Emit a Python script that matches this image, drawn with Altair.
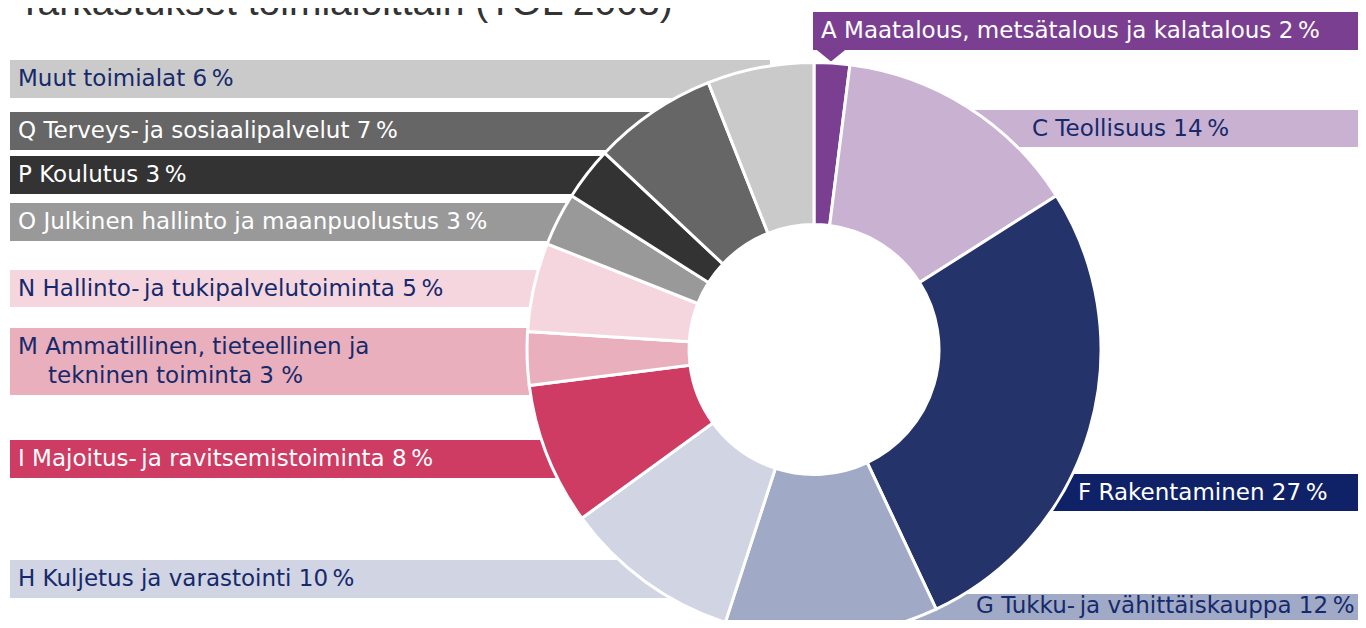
import altair as alt
import pandas as pd

# ---- data ----
categories = ["A", "C", "F", "G", "H", "I", "M", "N", "O", "P", "Q", "Muut"]
labels = [
    "A Maatalous, metsätalous ja kalatalous 2\u2009%",
    "C Teollisuus 14\u2009%",
    "F Rakentaminen 27\u2009%",
    "G Tukku-\u2009ja vähittäiskauppa 12\u2009%",
    "H Kuljetus ja varastointi 10\u2009%",
    "I Majoitus-\u2009ja ravitsemistoiminta 8\u2009%",
    "M Ammatillinen, tieteellinen ja\ntekninen toiminta 3 %",
    "N Hallinto-\u2009ja tukipalvelutoiminta 5\u2009%",
    "O Julkinen hallinto ja maanpuolustus 3\u2009%",
    "P Koulutus 3\u2009%",
    "Q Terveys-\u2009ja sosiaalipalvelut 7\u2009%",
    "Muut toimialat 6\u2009%",
]
shares = [2, 14, 27, 12, 10, 8, 3, 5, 3, 3, 7, 6]
title_text = "Tarkastukset toimialoittain (TOL 2008)"

# ---- styles ----
slice_colors = ["#7B3F91", "#C9B1D2", "#24346A", "#A0A9C6", "#D0D4E3", "#CE3B63",
                "#EAAFBD", "#F5D6DF", "#999999", "#333333", "#666666", "#CACACA"]
band_colors = ["#7B3F91", "#C9B1D2", "#0F2167", "#A0A9C6", "#D0D4E3", "#CE3B63",
               "#EAAFBD", "#F5D6DF", "#999999", "#333333", "#666666", "#CACACA"]
NAVY = "#16296B"
WHITE = "#FFFFFF"
text_colors = [WHITE, NAVY, WHITE, NAVY, NAVY, WHITE, NAVY, NAVY, WHITE, WHITE, WHITE, NAVY]

# ---- layout (page pixels; svg origin is at page (8, 8)) ----
OFF = 8
# x1, x2, y1, y2, text_x, text_dy
band_boxes = [
    (813, 1366, 12, 50, 821, 0),
    (900, 1366, 110, 147, 1032, 0),
    (950, 1366, 474, 511, 1078, 0),
    (900, 1366, 594, 634, 976, -8),
    (10, 680, 560, 598, 18, 0),
    (10, 600, 440, 478, 18, 0),
    (10, 600, 328, 395, 18, 0),
    (10, 600, 270, 307, 18, 0),
    (10, 650, 203, 241, 18, 0),
    (10, 700, 156, 194, 18, 0),
    (10, 700, 112, 150, 18, 0),
    (10, 770, 60, 98, 18, 0),
]
LINE_H = 29
INDENT = 30
CX, CY = 814, 349.5
R_OUT, R_IN = 287, 125
FONT = "DejaVu Sans"
FSIZE = 23

W, H = 1350, 612

# ---- tables ----
slices = pd.DataFrame({
    "cat": categories, "share": shares, "order": list(range(len(categories))),
})

bands = pd.DataFrame({
    "cat": categories,
    "x1": [b[0] - OFF for b in band_boxes],
    "x2": [min(b[1] - OFF, W) for b in band_boxes],
    "y1": [b[2] - OFF for b in band_boxes],
    "y2": [min(b[3] - OFF, H) for b in band_boxes],
    "fill": band_colors,
})

rows = []
for i, (lab, box, tc) in enumerate(zip(labels, band_boxes, text_colors)):
    lines = lab.split("\n")
    n = len(lines)
    cy = (box[2] + box[3]) / 2 + box[5]
    for j, ln in enumerate(lines):
        rows.append({
            "cat": categories[i],
            "line": ln,
            "tx": box[4] - OFF + (INDENT if j > 0 else 0),
            "ty": cy - OFF + (j - (n - 1) / 2) * LINE_H,
            "tc": tc,
        })
texts = pd.DataFrame(rows)

pointer = pd.DataFrame({"px": [831 - OFF], "py": [55 - OFF]})

noscale_x = lambda f: alt.X(f, scale=None, axis=None)
noscale_y = lambda f: alt.Y(f, scale=None, axis=None)

band_layer = alt.Chart(bands).mark_rect().encode(
    x=noscale_x("x1:Q"), x2="x2:Q",
    y=noscale_y("y1:Q"), y2="y2:Q",
    color=alt.Color("fill:N", scale=None),
)

pointer_layer = alt.Chart(pointer).mark_point(
    shape="M-1,-0.4L1,-0.4L0,0.4Z", filled=True, opacity=1,
    color=band_colors[0], size=1024, strokeWidth=0,
).encode(x=noscale_x("px:Q"), y=noscale_y("py:Q"))

arc_layer = alt.Chart(slices).mark_arc(
    innerRadius=R_IN, outerRadius=R_OUT, stroke="white", strokeWidth=3,
).encode(
    theta=alt.Theta("share:Q", stack=True),
    order=alt.Order("order:Q"),
    color=alt.Color("cat:N", scale=alt.Scale(domain=categories, range=slice_colors), legend=None),
    x=alt.value(CX - OFF), y=alt.value(CY - OFF),
)

text_layer = alt.Chart(texts).mark_text(
    align="left", baseline="middle", font=FONT, fontSize=FSIZE,
).encode(
    x=noscale_x("tx:Q"), y=noscale_y("ty:Q"),
    text="line:N",
    color=alt.Color("tc:N", scale=None),
)

title_layer = alt.Chart(pd.DataFrame({"t": [title_text]})).mark_text(
    align="left", baseline="alphabetic", font="Liberation Sans", fontSize=39,
    color="#333333",
).encode(x=alt.value(18 - OFF), y=alt.value(15 - OFF), text="t:N")

chart = alt.layer(
    band_layer, pointer_layer, arc_layer, text_layer, title_layer
).properties(
    width=W, height=H, autosize=alt.AutoSizeParams(type="none"), padding=0,
).configure_view(stroke=None)

chart.save("out.html", embed_options={"renderer": "svg", "actions": False})
